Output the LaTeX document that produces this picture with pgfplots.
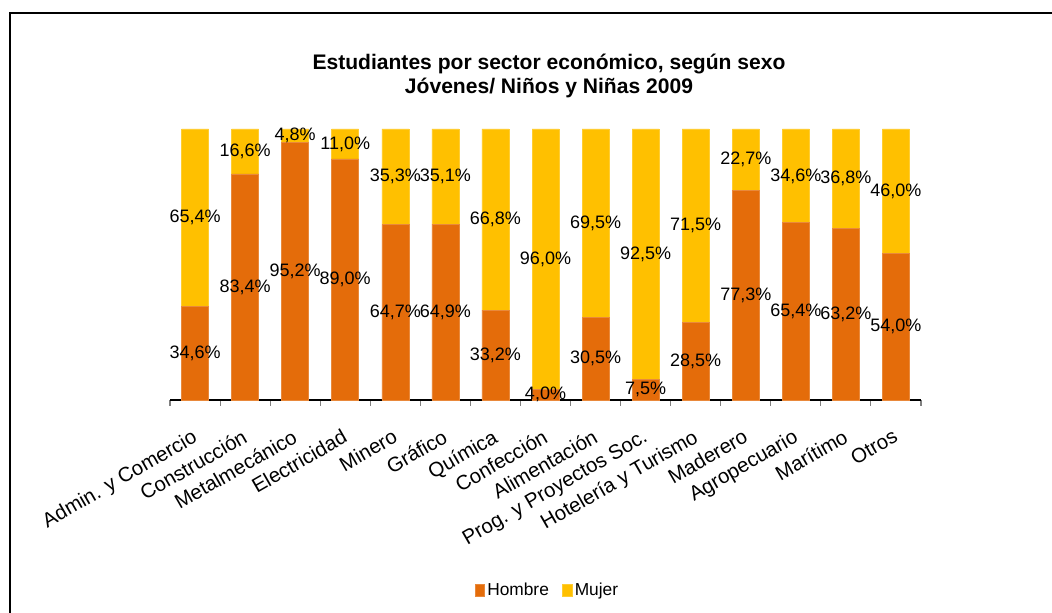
\documentclass[border=0pt]{standalone}
\usepackage{fontspec}
\setmainfont{Liberation Sans}
\usepackage{pgfplots}
\pgfplotsset{compat=1.18}
\usepackage{pgfplotstable}

\definecolor{hombre}{HTML}{E46C0A}
\definecolor{mujer}{HTML}{FFC000}

\pgfplotstableread{
x hombre mujer
0  34.6 65.4
1  83.4 16.6
2  95.2 4.8
3  89.0 11.0
4  64.7 35.3
5  64.9 35.1
6  33.2 66.8
7  4.0  96.0
8  30.5 69.5
9  7.5  92.5
10 28.5 71.5
11 77.3 22.7
12 65.4 34.6
13 63.2 36.8
14 54.0 46.0
}\datatable

\begin{document}
\begin{tikzpicture}
  % page = 1052 x 613 px, 1px = 0.75pt
  \useasboundingbox (0,0) rectangle (789pt,459.75pt);
  \draw[line width=1.5pt] (7.5pt,-20pt) -- (7.5pt,450pt) -- (820pt,450pt);

  \node[align=center, font=\bfseries\fontsize{15.8}{18.5}\selectfont]
    at (411.75pt,402.75pt) {Estudiantes por sector económico, según sexo\\Jóvenes/ Niños y Niñas 2009};

  \begin{axis}[
    at={(127.5pt,159.75pt)}, anchor=south west,
    scale only axis, width=563.25pt, height=203.25pt,
    ybar stacked, bar width=20.25pt,
    xmin=-0.5, xmax=14.5, ymin=0, ymax=100,
    axis x line*=bottom, axis y line=none,
    xtick={0,...,14},
    xticklabels={Admin. y Comercio, Construcción, Metalmecánico, Electricidad, Minero, Gráfico, Química, Confección, Alimentación, Prog. y Proyectos Soc., Hotelería y Turismo, Maderero, Agropecuario, Marítimo, Otros},
    major tick length=0pt,
    minor xtick={-0.5,0.5,...,14.5},
    minor tick length=4.5pt, tick align=outside,
    minor tick style={gray, line width=0.8pt},
    axis line style={black, line width=0.8pt},
    xticklabel style={xshift=-3pt, yshift=-21pt, rotate=30, anchor=north east, font=\fontsize{15.3}{18}\selectfont, inner sep=0pt},
    /pgf/number format/assume math mode=true,
    nodes near coords={\pgfmathprintnumber[fixed,fixed zerofill,precision=1,use comma]{\pgfplotspointmeta}\%},
    nodes near coords align=center,
    every node near coord/.append style={font=\fontsize{13.5}{16}\selectfont, black, anchor=center, inner sep=0pt},
    legend style={at={(0.503,-0.701)}, anchor=center, draw=none, legend columns=2,
      font=\fontsize{13}{15}\selectfont, /tikz/every even column/.append style={column sep=8pt}},
    legend image code/.code={\fill[#1] (0pt,-4.5pt) rectangle (7pt,4.5pt);},
    clip=false,
  ]
    \addplot[fill=hombre, draw=hombre!80!white, line width=0.4pt,
      point meta=\thisrow{hombre}]
      table[x=x, y=hombre] {\datatable};
    \addlegendentry{Hombre}
    \addplot[fill=mujer, draw=mujer!80!white, line width=0.4pt,
      point meta=\thisrow{mujer}]
      table[x=x, y=mujer] {\datatable};
    \addlegendentry{Mujer}
  \end{axis}
\end{tikzpicture}
\end{document}
